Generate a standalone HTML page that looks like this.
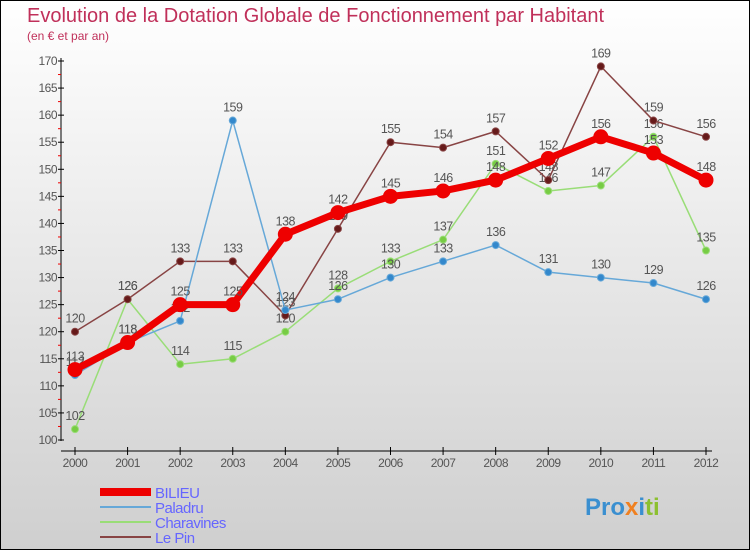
<!DOCTYPE html>
<html><head><meta charset="utf-8"><style>
body{margin:0;}
svg text{font-family:"Liberation Sans",sans-serif;}
</style></head><body>
<svg width="750" height="550" viewBox="0 0 750 550" xmlns="http://www.w3.org/2000/svg">
<defs><linearGradient id="bg" x1="0" y1="0" x2="0" y2="1"><stop offset="0" stop-color="#ffffff"/><stop offset="1" stop-color="#cfcfcf"/></linearGradient></defs>
<rect x="0.5" y="0.5" width="749" height="549" fill="url(#bg)" stroke="#000"/>
<text x="27" y="22" font-size="20" fill="#c0305a">Evolution de la Dotation Globale de Fonctionnement par Habitant</text>
<text x="27" y="40" font-size="12" fill="#c0305a">(en € et par an)</text>
<g id="axes"></g>
<g id="series"></g>
<g id="legend"></g>
<g font-size="24" font-weight="bold">
<text x="585" y="515"><tspan fill="#3a8fd0">Pro</tspan><tspan fill="#f08020">x</tspan><tspan fill="#3a8fd0">i</tspan><tspan fill="#8cc030">ti</tspan></text>
</g>
</svg>
<script>
const years=[2000,2001,2002,2003,2004,2005,2006,2007,2008,2009,2010,2011,2012];
const bilieu=[113,118,125,125,138,142,145,146,148,152,156,153,148];
const paladru=[112,118,122,159,124,126,130,133,136,131,130,129,126];
const charavines=[102,126,114,115,120,128,133,137,151,146,147,156,135];
const lepin=[120,126,133,133,123,139,155,154,157,148,169,159,156];
const yTicks=[100,105,110,115,120,125,130,135,140,145,150,155,160,165,170];
const NS="http://www.w3.org/2000/svg";
const xs=i=>75+i*(706-75)/12;
const ys=v=>440-(v-100)*(440-61)/70;
function mk(tag,attrs,parent,txt){const e=document.createElementNS(NS,tag);for(const k in attrs)e.setAttribute(k,attrs[k]);if(txt!==undefined)e.textContent=txt;parent.appendChild(e);return e;}
const ax=document.getElementById('axes');
let l=mk('line',{x1:61,y1:58,x2:61,y2:441,stroke:'#000'},ax);


l=mk('line',{x1:61,y1:451,x2:712,y2:451,stroke:'#000'},ax);


yTicks.forEach((v,i)=>{const y=ys(v);
 mk('line',{x1:58,y1:y,x2:64,y2:y,stroke:'#000'},ax);
 if(i<yTicks.length-1)mk('line',{x1:58,y1:y-(440-61)/28,x2:61,y2:y-(440-61)/28,stroke:'#e00'},ax);
 const t=mk('text',{x:57,y:y+4,'font-size':12,fill:'#555','text-anchor':'end','letter-spacing':'-0.5'},ax,v);
 
 });
years.forEach((yr,i)=>{const x=xs(i);
 mk('line',{x1:x,y1:447,x2:x,y2:455,stroke:'#000'},ax);
 const t=mk('text',{x:x,y:467,'font-size':12,fill:'#555','text-anchor':'middle','letter-spacing':'-0.5'},ax,yr);
 
 });
const sg=document.getElementById('series');
function draw(name,data,color,dot,w,r){
 const g=mk('g',{},sg);
 
 
 const p=mk('polyline',{points:data.map((v,i)=>xs(i)+','+ys(v)).join(' '),fill:'none',stroke:color,'stroke-width':w,'stroke-linejoin':'round'},g);
 
 
 data.forEach((v,i)=>{
  const c=mk('circle',{cx:xs(i),cy:ys(v),r:r,fill:dot,stroke:color,'stroke-width':1},g);
  
  
  const t=mk('text',{x:xs(i),y:ys(v)-9,'font-size':12.5,fill:'#555','text-anchor':'middle','letter-spacing':'-0.5'},g,v);
  
  
 });
}
draw('charavines',charavines,'#99dd77','#77cc44',1.5,3.5);
draw('lepin',lepin,'#884444','#661a1a',1.5,3.5);
draw('paladru',paladru,'#66a8d8','#3388cc',1.5,3.5);
draw('bilieu',bilieu,'#ee0000','#ee0000',7,7);
const lg=document.getElementById('legend');
const leg=[['BILIEU','#ee0000',8],['Paladru','#66a8d8',2],['Charavines','#99dd77',2],['Le Pin','#884444',2]];
leg.forEach((e,i)=>{const y=492+i*15;
 const g=mk('g',{},lg);
 
 
 mk('line',{x1:100,y1:y,x2:151,y2:y,stroke:e[1],'stroke-width':e[2]},g);
 mk('text',{x:155,y:y+6,'font-size':15,fill:'#6666ff','letter-spacing':'-0.5'},g,e[0]);
});
</script>
</body></html>
